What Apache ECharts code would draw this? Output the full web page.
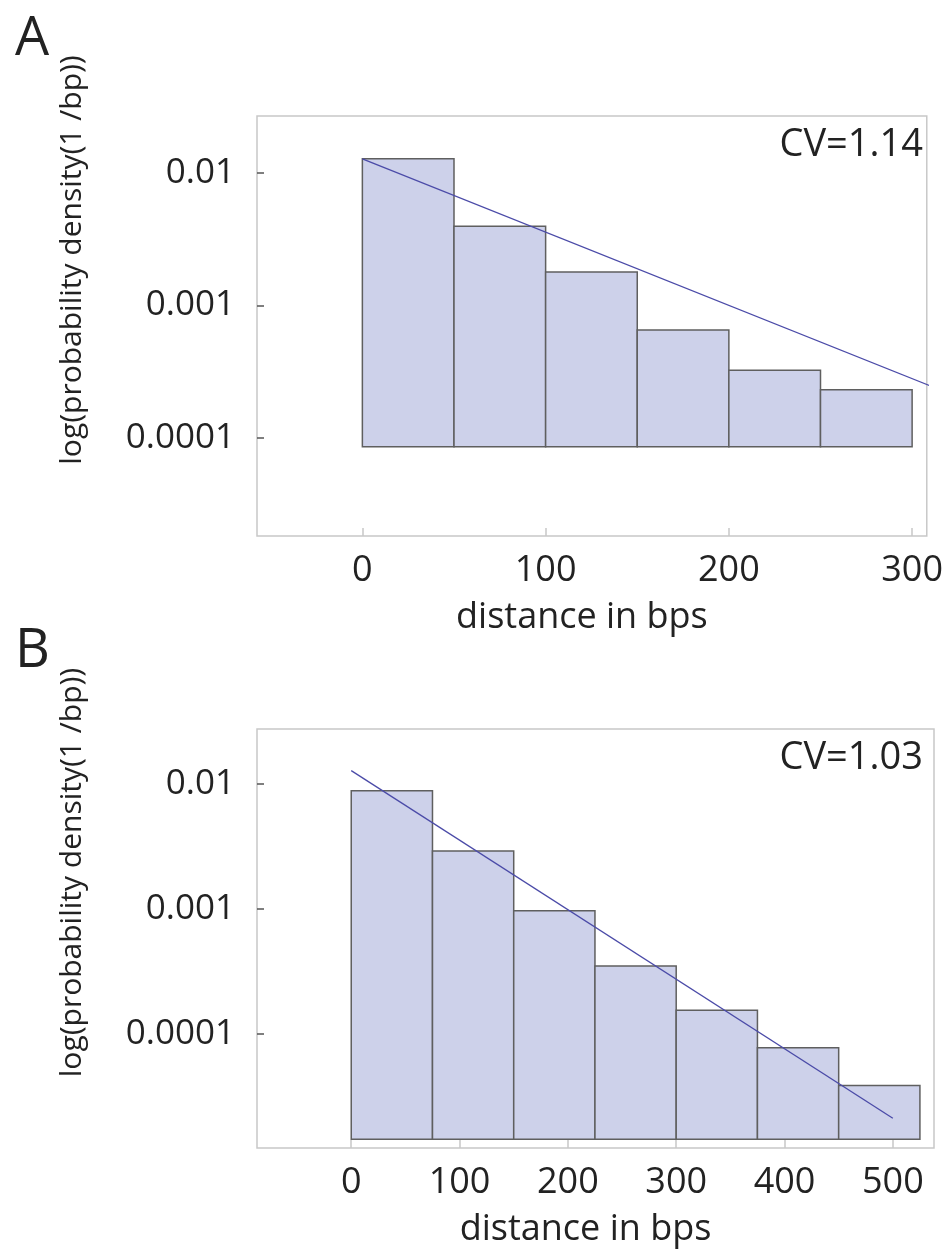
<!DOCTYPE html>
<html>
<head>
<meta charset="utf-8">
<script src="https://cdn.jsdelivr.net/npm/echarts@6/dist/echarts.min.js"></script>
<style>
  html, body { margin: 0; padding: 0; background: #ffffff; }
  #chart { width: 946px; height: 1255px; }
</style>
</head>
<body>
<div id="chart"></div>
<script>
// Panel A: histogram bins of 50 bp (edges) and bar heights
const binEdgesA = [0, 50, 100, 150, 200, 250, 300];
const densityA = [0.0128, 0.00396, 0.00179, 0.00065, 0.000323, 0.00023];
const baseA = 0.0000855;
const fitXA = [0, 311];
const fitYA = [0.0128, 0.000243];

// Panel B: histogram bins of 75 bp
const binEdgesB = [0, 75, 150, 225, 300, 375, 450, 525];
const densityB = [0.00883, 0.00292, 0.00097, 0.00035, 0.000155, 0.0000777, 0.0000388];
const baseB = 0.0000144;
const fitXB = [0, 500];
const fitYB = [0.0128, 0.0000212];

// Tick labels
const yTicks = [0.01, 0.001, 0.0001];
const xTicksA = [0, 100, 200, 300];
const xTicksB = [0, 100, 200, 300, 400, 500];

const cvA = 'CV=1.14';
const cvB = 'CV=1.03';

const font = 'Open Sans';
const textColor = '#222222';

function bins(edges, values) {
  return values.map((v, i) => [edges[i], edges[i + 1], v]);
}

function histSeries(idx, data, base) {
  return {
    type: 'custom',
    xAxisIndex: idx,
    yAxisIndex: idx,
    data: data,
    encode: { x: [0, 1], y: 2 },
    renderItem: function (params, api) {
      const p0 = api.coord([api.value(0), api.value(2)]);
      const p1 = api.coord([api.value(1), base]);
      return {
        type: 'rect',
        shape: { x: p0[0], y: p0[1], width: p1[0] - p0[0], height: p1[1] - p0[1] },
        style: { fill: '#cdd1ea', stroke: '#5f5f5f', lineWidth: 1.5 }
      };
    },
    z: 2
  };
}

function fitSeries(idx, xs, ys) {
  return {
    type: 'line',
    xAxisIndex: idx,
    yAxisIndex: idx,
    data: xs.map((x, i) => [x, ys[i]]),
    symbol: 'none',
    clip: false,
    lineStyle: { color: '#4b4ba8', width: 1.3 },
    z: 3
  };
}

function xAxisCfg(idx, min, max, ticks) {
  return {
    type: 'value',
    gridIndex: idx,
    min: min,
    max: max,
    name: 'distance in bps',
    nameLocation: 'middle',
    nameGap: 64,
    nameTextStyle: { fontFamily: font, fontSize: 36, color: textColor, padding: [0, 20, 0, 0] },
    axisLine: { show: false, onZero: false },
    axisTick: { show: true, inside: true, length: 8, customValues: ticks, lineStyle: { color: '#c8c8c8', width: 1.5 } },
    axisLabel: { customValues: ticks, margin: 17, fontFamily: font, fontSize: 36, color: textColor },
    splitLine: { show: false }
  };
}

function yAxisCfg(idx, min, max) {
  return {
    type: 'log',
    logBase: 10,
    gridIndex: idx,
    min: min,
    max: max,
    name: 'log(probability density(1 /bp))',
    nameLocation: 'middle',
    nameGap: 170,
    nameTextStyle: { fontFamily: font, fontSize: 30, color: textColor, padding: [0, 0, 0, 132] },
    axisLine: { show: false, onZero: false },
    axisTick: { show: true, inside: true, length: 7, customValues: yTicks, lineStyle: { color: '#555555', width: 1.5 } },
    axisLabel: {
      customValues: yTicks,
      margin: 22,
      fontFamily: font,
      fontSize: 35,
      color: textColor,
      formatter: function (v) {
        const e = Math.round(Math.log10(v));
        return Math.pow(10, e).toFixed(-e);
      }
    },
    splitLine: { show: false }
  };
}

const option = {
  animation: false,
  backgroundColor: '#ffffff',
  title: [
    { text: 'A', left: 10, top: 8, textStyle: { fontFamily: font, fontSize: 54, fontWeight: 'normal', color: textColor } },
    { text: 'B', left: 10, top: 620, textStyle: { fontFamily: font, fontSize: 54, fontWeight: 'normal', color: textColor } },
    { text: cvA, right: 18, top: 121, textStyle: { fontFamily: font, fontSize: 38, fontWeight: 'normal', color: textColor } },
    { text: cvB, right: 18, top: 734, textStyle: { fontFamily: font, fontSize: 38, fontWeight: 'normal', color: textColor } }
  ],
  grid: [
    { left: 257, top: 116, width: 677, height: 420, show: true, borderColor: '#c8c8c8', borderWidth: 1.5 },
    { left: 257, top: 729, width: 677, height: 419, show: true, borderColor: '#c8c8c8', borderWidth: 1.5 }
  ],
  xAxis: [
    xAxisCfg(0, -57.5, 308, xTicksA),
    xAxisCfg(1, -87, 538, xTicksB)
  ],
  yAxis: [
    yAxisCfg(0, 0.00001807, 0.02698),
    yAxisCfg(1, 0.00001227, 0.02757)
  ],
  series: [
    histSeries(0, bins(binEdgesA, densityA), baseA),
    fitSeries(0, fitXA, fitYA),
    histSeries(1, bins(binEdgesB, densityB), baseB),
    fitSeries(1, fitXB, fitYB)
  ]
};

const chart = echarts.init(document.getElementById('chart'));
chart.setOption(option);
</script>
</body>
</html>
